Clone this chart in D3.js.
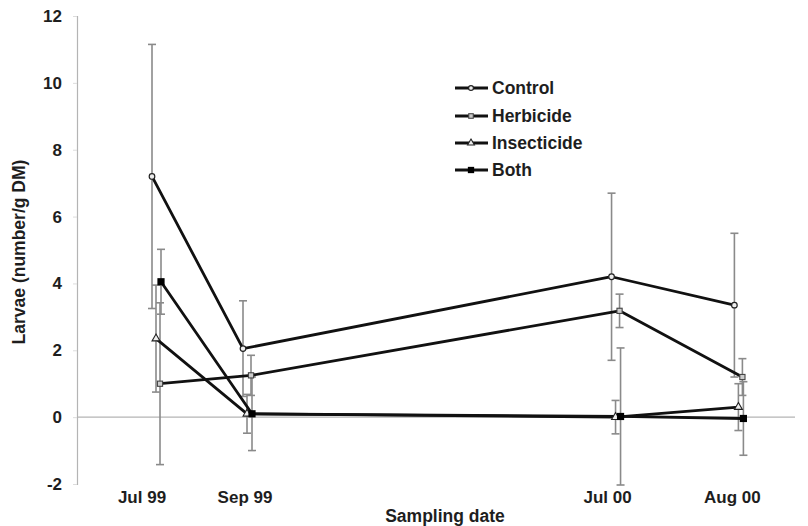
<!DOCTYPE html>
<html>
<head>
<meta charset="utf-8">
<script src="https://cdn.jsdelivr.net/npm/d3@7"></script>
<style>
  html, body { margin: 0; padding: 0; background: #fff; }
  svg { display: block; font-family: "Liberation Sans", Arial, sans-serif; }
</style>
</head>
<body>
<svg id="chart" width="808" height="526"></svg>
<script>
// ---- data ----
const categories = ["Jul 99", "Sep 99", "Jul 00", "Aug 00"];
const categoryPos = [0, 1, 5.05, 6.4];          // sampling position on the time axis
const seriesNames = ["Control", "Herbicide", "Insecticide", "Both"];
const controlValues     = [7.2, 2.05, 4.2, 3.35];
const controlErrors     = [3.95, 1.43, 2.5, 2.15];
const herbicideValues   = [1.0, 1.25, 3.18, 1.2];
const herbicideErrors   = [2.42, 0.6, 0.5, 0.55];
const insecticideValues = [2.35, 0.1, 0.0, 0.3];
const insecticideErrors = [1.6, 0.58, 0.5, 0.7];
const bothValues        = [4.05, 0.1, 0.02, -0.04];
const bothErrors        = [0.97, 1.1, 2.05, 1.1];
const yTicks = [-2, 0, 2, 4, 6, 8, 10, 12];

const series = [
  { name: "Control",     values: controlValues,     errors: controlErrors,     marker: "circle",   dx: -4 },
  { name: "Herbicide",   values: herbicideValues,   errors: herbicideErrors,   marker: "square",   dx: 4 },
  { name: "Insecticide", values: insecticideValues, errors: insecticideErrors, marker: "triangle", dx: 0 },
  { name: "Both",        values: bothValues,        errors: bothErrors,        marker: "filled",   dx: 5 }
];

// ---- layout ----
const svg = d3.select("#chart");
const x = d3.scaleLinear().domain([0, 1]).range([156, 247]);
const y = d3.scaleLinear().domain([-2, 12]).range([484, 16]);
const axisColor = "#b4b4b4";
const errColor = "#8a8a8a";
const textColor = "#1e1e1e";

// Y axis
const yAxis = svg.append("g").attr("transform", "translate(77,0)")
  .call(d3.axisLeft(y).tickValues(yTicks).tickSize(4).tickPadding(11).tickFormat(d => String(d)));
yAxis.select(".domain").attr("stroke", axisColor).attr("stroke-width", 1.2);
yAxis.selectAll(".tick line").attr("stroke", "#dcdcdc");
yAxis.selectAll(".tick text").attr("font-size", 17).attr("font-weight", "bold").attr("fill", textColor);

// zero line (x axis)
svg.append("line")
  .attr("x1", 77).attr("x2", 795)
  .attr("y1", y(0)).attr("y2", y(0))
  .attr("stroke", axisColor).attr("stroke-width", 1.2);

// category labels
const labelShift = [-14, -2, -8, -6];
svg.append("g").selectAll("text").data(categories).join("text")
  .attr("x", (d, i) => x(categoryPos[i]) + labelShift[i])
  .attr("y", 503)
  .attr("text-anchor", "middle")
  .attr("font-size", 17).attr("font-weight", "bold").attr("fill", textColor)
  .text(d => d);

// axis titles
svg.append("text")
  .attr("x", 445).attr("y", 522)
  .attr("text-anchor", "middle")
  .attr("font-size", 17.5).attr("font-weight", "bold").attr("fill", textColor)
  .text("Sampling date");
svg.append("text")
  .attr("transform", "translate(25,252) rotate(-90)")
  .attr("text-anchor", "middle")
  .attr("font-size", 17.5).attr("font-weight", "bold").attr("fill", textColor)
  .text("Larvae (number/g DM)");

// error bars
const errG = svg.append("g");
series.forEach(s => {
  s.values.forEach((v, i) => {
    const cx = x(categoryPos[i]) + s.dx;
    const lo = y(v - s.errors[i]), hi = y(v + s.errors[i]);
    errG.append("line").attr("x1", cx).attr("x2", cx).attr("y1", lo).attr("y2", hi)
      .attr("stroke", errColor).attr("stroke-width", 1.6);
    [lo, hi].forEach(yy => errG.append("line")
      .attr("x1", cx - 4).attr("x2", cx + 4).attr("y1", yy).attr("y2", yy)
      .attr("stroke", errColor).attr("stroke-width", 1.6));
  });
});

// lines
const line = d3.line()
  .x(d => d.x)
  .y(d => y(d.v));
series.forEach(s => {
  const pts = s.values.map((v, i) => ({ x: x(categoryPos[i]) + s.dx, v }));
  svg.append("path").datum(pts)
    .attr("d", line).attr("fill", "none")
    .attr("stroke", "#111").attr("stroke-width", 2.8)
    .attr("stroke-linejoin", "round");
  s.pts = pts;
});

// markers
function drawMarker(g, type, cx, cy, size) {
  if (type === "circle") {
    g.append("circle").attr("cx", cx).attr("cy", cy).attr("r", size * 0.7)
      .attr("fill", "#eee").attr("stroke", "#222").attr("stroke-width", 1.2);
  } else if (type === "square") {
    g.append("rect").attr("x", cx - size * 0.65).attr("y", cy - size * 0.65)
      .attr("width", size * 1.3).attr("height", size * 1.3)
      .attr("fill", "#ccc").attr("stroke", "#444").attr("stroke-width", 1.1);
  } else if (type === "triangle") {
    g.append("path")
      .attr("d", d3.symbol(d3.symbolTriangle, size * size * 1.7)())
      .attr("transform", `translate(${cx},${cy})`)
      .attr("fill", "#eee").attr("stroke", "#222").attr("stroke-width", 1.1);
  } else {
    g.append("rect").attr("x", cx - size * 0.9).attr("y", cy - size * 0.9)
      .attr("width", size * 1.8).attr("height", size * 1.8)
      .attr("fill", "#000");
  }
}
const mG = svg.append("g");
series.forEach(s => {
  s.pts.forEach(p => drawMarker(mG, s.marker, p.x, y(p.v), 4));
});

// legend
const legendY = [88, 116, 143, 170];
const lg = svg.append("g");
series.forEach((s, i) => {
  lg.append("line").attr("x1", 455).attr("x2", 488)
    .attr("y1", legendY[i]).attr("y2", legendY[i])
    .attr("stroke", "#111").attr("stroke-width", 2.8);
  drawMarker(lg, s.marker, 471, legendY[i], 3.5);
  lg.append("text").attr("x", 492).attr("y", legendY[i] + 6)
    .attr("font-size", 17.5).attr("font-weight", "bold").attr("fill", textColor)
    .text(s.name);
});
</script>
</body>
</html>
